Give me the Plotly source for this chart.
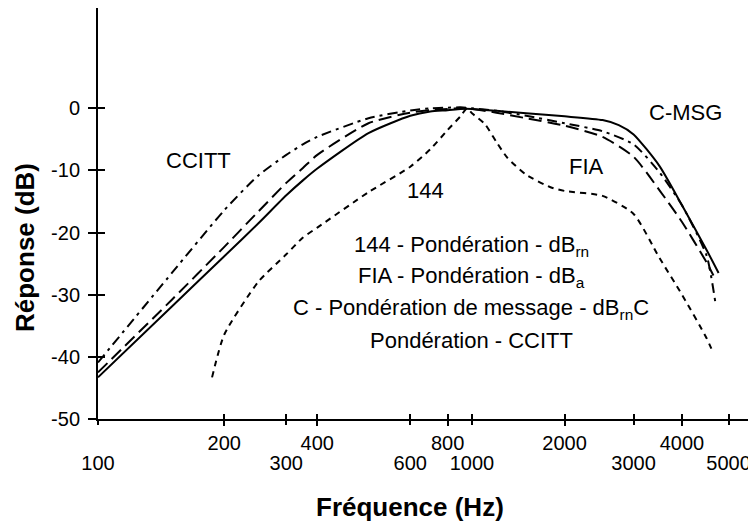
import numpy as np
import plotly.graph_objects as go

# ---------------- data ----------------
TICK_FREQS = [100, 200, 300, 400, 600, 800, 1000, 2000, 3000, 4000, 5000]
TICK_LABELS = ["100", "200", "300", "400", "600", "800", "1000", "2000", "3000", "4000", "5000"]
TICK_ROW = ["low", "up", "low", "up", "low", "up", "low", "up", "low", "up", "low"]
Y_TICKS = [-50, -40, -30, -20, -10, 0]
Y_LABELS = ["-50", "-40", "-30", "-20", "-10", "0"]

# C-message (solid)
FREQ_C = [100, 150, 200, 250, 300, 350, 400, 500, 600, 700, 800, 900, 1000, 1200, 1500,
          2000, 2500, 2750, 3000, 3500, 4000, 4500, 4766]
DB_C = [-43.3, -31.9, -23.8, -18.5, -14.0, -11.6, -9.7, -4.0, -1.2, -0.5, -0.3, -0.1, -0.1,
        -0.4, -0.8, -1.3, -1.9, -2.7, -4.2, -9.3, -15.6, -22.8, -26.5]

# FIA (long dash)
FREQ_FIA = [100, 150, 200, 250, 300, 350, 400, 500, 600, 700, 800, 900, 1000, 1200, 1500,
            2000, 2500, 3000, 3500, 4000, 4500, 4650]
DB_FIA = [-42.5, -30.8, -22.3, -16.6, -12.0, -9.6, -7.5, -2.4, -0.7, -0.3, -0.1, 0.0, -0.1,
          -0.7, -1.6, -2.8, -4.6, -7.8, -13.2, -18.3, -24.8, -26.9]

# CCITT (dash-dot)
FREQ_CCITT = [100, 150, 200, 250, 300, 350, 400, 500, 600, 700, 800, 900, 1000, 1200, 1500,
              2000, 2500, 3000, 3500, 4000, 4500, 4692]
DB_CCITT = [-40.9, -26.5, -16.4, -10.8, -7.5, -5.8, -4.6, -1.6, -0.35, 0.0, 0.1, 0.15, 0.0,
            -0.4, -1.2, -2.4, -3.7, -5.8, -10.3, -15.6, -23.7, -31.2]

# 144 (short dash)
FREQ_144 = [187, 200, 250, 300, 350, 400, 500, 600, 700, 800, 900, 955, 1000, 1100, 1200,
            1300, 1500, 1800, 2000, 2500, 3000, 3500, 4000, 4500, 4653]
DB_144 = [-43.3, -36.4, -27.9, -23.5, -20.8, -19.2, -13.5, -9.4, -6.6, -3.5, -1.3, 0.0, -0.8,
          -2.5, -5.4, -7.9, -10.7, -12.7, -13.3, -14.1, -17.0, -24.1, -30.0, -37.0, -39.5]

# The printed frequency axis is hand-graduated (not a true log scale):
# offsets of each graduation along the axis.
AXIS_GRADUATION = [0, 126.3, 188.3, 219.3, 312.3, 349.6, 374.0, 466.6, 535.6, 584.0, 630.6]


def warp(freqs):
    return np.interp(np.log10(freqs), np.log10(TICK_FREQS), AXIS_GRADUATION)


FONT = "Liberation Sans, Arial, sans-serif"
W, H = 748, 523
ML, MR, MT, MB = 98, 0, 8, 104
PW, PH = W - ML - MR, H - MT - MB
XR = [0, PW]
YR = [-50, 16.14]


def xp(px):
    return (px - ML) / PW


def yp(py):
    return (H - MB - py) / PH


fig = go.Figure()

curves = [
    (FREQ_CCITT, DB_CCITT, "10px,5px,3px,5px", "CCITT"),
    (FREQ_FIA, DB_FIA, "13px,6px", "FIA"),
    (FREQ_C, DB_C, "solid", "C-MSG"),
    (FREQ_144, DB_144, "6px,5px", "144"),
]
for fx, dy, dash, name in curves:
    fig.add_trace(go.Scatter(
        x=warp(fx), y=dy, mode="lines", name=name,
        line=dict(color="black", width=2, dash=dash, shape="spline", smoothing=0.6),
        showlegend=False, hoverinfo="skip"))

# invisible traces carrying the overlay axes
for xa, ya in (("x2", "y2"), ("x3", "y")):
    fig.add_trace(go.Scatter(x=[XR[0]], y=[YR[0]], xaxis=xa, yaxis=ya,
                             mode="markers", marker=dict(opacity=0), showlegend=False,
                             hoverinfo="skip"))

up_f = [f for f, r in zip(TICK_FREQS, TICK_ROW) if r == "up"]
up_l = [l for l, r in zip(TICK_LABELS, TICK_ROW) if r == "up"]
lo_f = [f for f, r in zip(TICK_FREQS, TICK_ROW) if r == "low"]
lo_l = [l for l, r in zip(TICK_LABELS, TICK_ROW) if r == "low"]

TICK_SIZE = 20
common_x = dict(range=XR, showgrid=False, zeroline=False, tickangle=0, tickwidth=2,
                tickcolor="black", tickmode="array", ticklabeloverflow="allow",
                tickfont=dict(size=TICK_SIZE, family=FONT))

fig.update_layout(
    width=W, height=H,
    margin=dict(l=ML, r=MR, t=MT, b=MB, autoexpand=False),
    paper_bgcolor="white", plot_bgcolor="white",
    font=dict(family=FONT, color="black", size=TICK_SIZE),
    xaxis=dict(**common_x, showline=True, linecolor="black", linewidth=2,
               ticks="outside", ticklen=5, tickvals=warp(up_f), ticktext=up_l),
    xaxis2=dict(**common_x, overlaying="x", anchor="y2", side="bottom", showline=False,
                ticks="inside", ticklen=5, tickvals=warp(TICK_FREQS), showticklabels=False),
    xaxis3=dict(**common_x, overlaying="x", anchor="y", side="bottom", showline=False,
                ticks="outside", ticklen=5, tickvals=warp(lo_f), ticktext=lo_l,
                ticklabelstandoff=21),
    yaxis=dict(range=YR, showgrid=False, zeroline=False, showline=True, linecolor="black",
               linewidth=2, ticks="outside", ticklen=8, tickwidth=2, tickcolor="black",
               tickmode="array", tickvals=Y_TICKS, ticktext=Y_LABELS, ticklabelstandoff=4,
               tickfont=dict(size=TICK_SIZE, family=FONT)),
    yaxis2=dict(range=YR, overlaying="y", anchor="x2", side="left", showgrid=False,
                zeroline=False, showline=False, ticks="inside", ticklen=7, tickwidth=2,
                tickcolor="black", tickmode="array", tickvals=Y_TICKS, showticklabels=False),
)

ann = []


def add_text(text, px, py, size=22, bold=False, angle=0):
    ann.append(dict(text=("<b>%s</b>" % text) if bold else text, x=xp(px), y=yp(py),
                    xref="paper", yref="paper", xanchor="center", yanchor="middle",
                    showarrow=False, textangle=angle,
                    font=dict(size=size, family=FONT, color="black")))


add_text("CCITT", 198, 160)
add_text("144", 425, 190)
add_text("FIA", 586, 166)
add_text("C-MSG", 685, 112)
add_text("144 - Pondération - dB<sub>rn</sub>", 471, 246)
add_text("FIA - Pondération - dB<sub>a</sub>", 471, 277)
add_text("C - Pondération de message - dB<sub>rn</sub>C", 471, 309)
add_text("Pondération - CCITT", 471, 340)
add_text("Fréquence (Hz)", 410, 507, size=26, bold=True)
add_text("Réponse (dB)", 25, 248, size=26, bold=True, angle=-90)

fig.update_layout(annotations=ann)
fig.write_html("out.html", config={"displayModeBar": False},
               post_script="document.body.style.margin='0';")
